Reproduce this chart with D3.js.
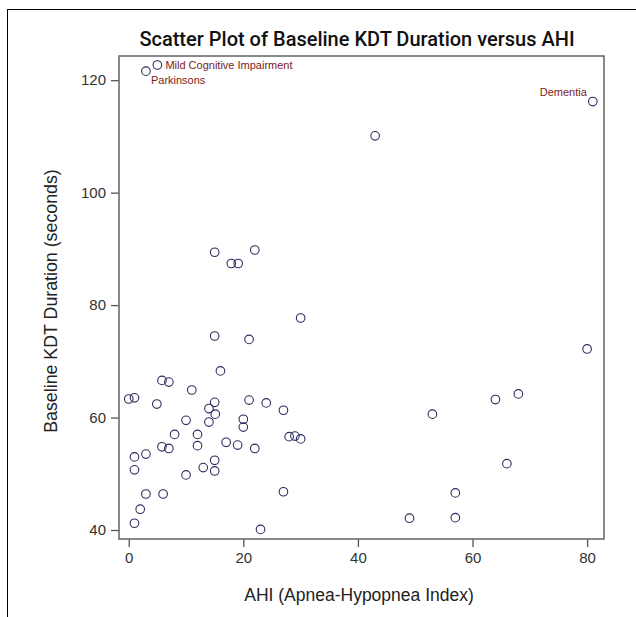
<!DOCTYPE html>
<html>
<head>
<meta charset="utf-8">
<script src="https://cdn.jsdelivr.net/npm/d3@7"></script>
<style>
  body { margin: 0; background: #fff; }
  svg { display: block; font-family: "Liberation Sans", Arial, sans-serif; }
</style>
</head>
<body>
<svg id="canvas" width="636" height="617"></svg>
<script>
// AHI (x) y duracion KDT (y)
const ahi = [3, 5, 81, 43, 15, 22, 17.9, 19.1, 30, 15, 21, 16, 5.8, 7, 11, 0, 1, 4.9, 15, 14,
  15.1, 21, 24, 27, 10, 14, 20, 20, 8, 12, 12, 17, 19, 22, 28, 29, 30, 5.8, 7, 1,
  3, 1, 10, 13, 15, 15, 3, 6, 27, 2, 1, 23, 80, 68, 64, 53, 66, 57, 57, 49]
const kdt = [121.6, 122.7, 116.2, 110.1, 89.4, 89.8, 87.4, 87.4, 77.7, 74.5, 73.9, 68.3, 66.6, 66.3, 64.9, 63.3, 63.5, 62.4, 62.7, 61.6,
  60.6, 63.1, 62.6, 61.3, 59.5, 59.2, 59.7, 58.3, 57.0, 57.0, 55.0, 55.6, 55.1, 54.5, 56.6, 56.7, 56.2, 54.8, 54.5, 53.0,
  53.5, 50.7, 49.8, 51.1, 52.4, 50.5, 46.4, 46.4, 46.8, 43.7, 41.2, 40.1, 72.2, 64.2, 63.2, 60.6, 51.8, 46.6, 42.2, 42.1]

// puntos etiquetados (indice en los arrays de arriba)
const etiquetas = ["Parkinsons", "Mild Cognitive Impairment", "Dementia"]
const etiquetaIdx = [0, 1, 2]

const xTicks = [0, 20, 40, 60, 80]
const yTicks = [40, 60, 80, 100, 120]

const margin = { left: 119, right: 32, top: 56, bottom: 78 }
const width = 636, height = 617

const svg = d3.select("#canvas")

// marco exterior (solo se ven izquierda y arriba)
svg.append("rect")
  .attr("x", 7.5).attr("y", 9.5)
  .attr("width", 700).attr("height", 700)
  .attr("fill", "none").attr("stroke", "#000").attr("stroke-width", 1)

const x = d3.scaleLinear()
  .domain([-1.7, 82.95])
  .range([margin.left, width - margin.right])
const y = d3.scaleLinear()
  .domain([38.4, 124.3])
  .range([height - margin.bottom, margin.top])

// ejes
const xAxis = svg.append("g")
  .attr("transform", `translate(0,${height - margin.bottom})`)
  .call(d3.axisBottom(x).tickValues(xTicks).tickSize(8).tickPadding(5))
const yAxis = svg.append("g")
  .attr("transform", `translate(${margin.left},0)`)
  .call(d3.axisLeft(y).tickValues(yTicks).tickSize(8).tickPadding(5))

;[xAxis, yAxis].forEach(g => {
  g.select(".domain").remove()
  g.selectAll(".tick line").attr("stroke", "#555").attr("stroke-width", 1.3)
  g.selectAll(".tick text").attr("fill", "#333").style("font-size", "15px")
})

// marco del grafico
svg.append("rect")
  .attr("x", margin.left).attr("y", margin.top)
  .attr("width", width - margin.left - margin.right)
  .attr("height", height - margin.top - margin.bottom)
  .attr("fill", "none").attr("stroke", "#6b6b6b").attr("stroke-width", 1.6)

// puntos
svg.append("g").selectAll("circle")
  .data(ahi.map((a, i) => [a, kdt[i]]))
  .enter()
  .append("circle")
  .attr("cx", d => x(d[0]))
  .attr("cy", d => y(d[1]))
  .attr("r", 4.3)
  .attr("fill", "none")
  .attr("stroke", "#2c2c5e")
  .attr("stroke-width", 1.1)

// etiquetas de los puntos
const offsets = [[5, 13, "start"], [8, 4, "start"], [-6, -6, "end"]]
svg.append("g").selectAll("text")
  .data(etiquetaIdx)
  .enter()
  .append("text")
  .attr("x", (d, i) => x(ahi[d]) + offsets[i][0])
  .attr("y", (d, i) => y(kdt[d]) + offsets[i][1])
  .attr("text-anchor", (d, i) => offsets[i][2])
  .attr("fill", "#7a1c1c")
  .style("font-size", "11px")
  .text((d, i) => etiquetas[i])

// titulo y etiquetas de ejes
svg.append("text")
  .attr("x", 357)
  .attr("y", 46)
  .attr("text-anchor", "middle")
  .attr("fill", "#111")
  .style("font-family", "Roboto, 'Liberation Sans', sans-serif")
  .style("font-size", "20px")
  .style("font-weight", "500")
  .text("Scatter Plot of Baseline KDT Duration versus AHI")

svg.append("text")
  .attr("x", 359)
  .attr("y", 601)
  .attr("text-anchor", "middle")
  .attr("fill", "#222")
  .style("font-size", "17.5px")
  .text("AHI (Apnea-Hypopnea Index)")

svg.append("text")
  .attr("transform", `translate(57,301) rotate(-90)`)
  .attr("text-anchor", "middle")
  .attr("fill", "#222")
  .style("font-size", "17.8px")
  .text("Baseline KDT Duration (seconds)")
</script>
</body>
</html>
